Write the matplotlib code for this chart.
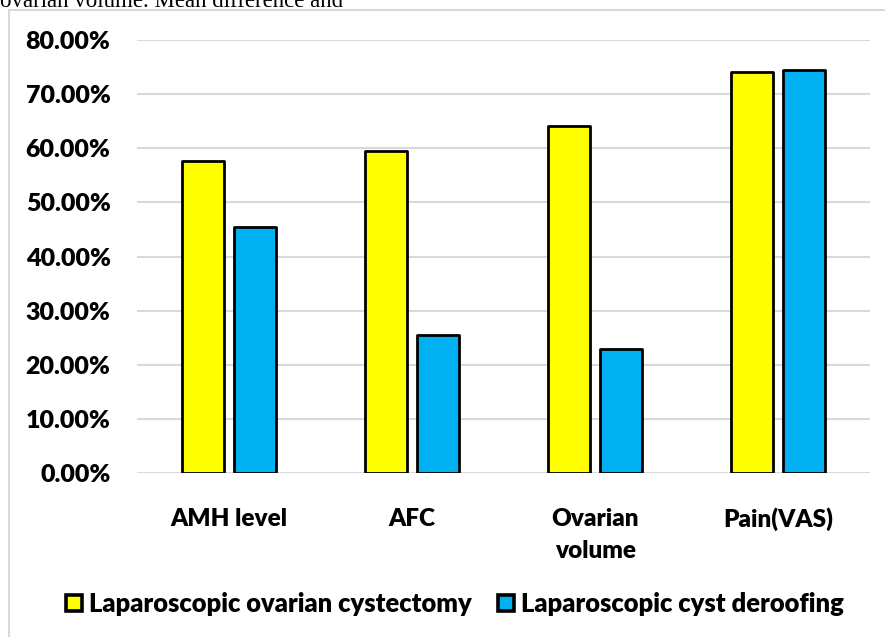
import matplotlib
matplotlib.use("Agg")
import matplotlib.pyplot as plt
from matplotlib.lines import Line2D
from matplotlib.ticker import FuncFormatter
import numpy as np

categories = ["AMH level", "AFC", "Ovarian\nvolume", "Pain(VAS)"]
cystectomy = [0.577, 0.595, 0.642, 0.741]
deroofing = [0.454, 0.255, 0.230, 0.745]
series_names = ["Laparoscopic ovarian cystectomy", "Laparoscopic cyst deroofing"]
colors = ["#FFFF00", "#00B0F0"]

FONT = "Lato"
WEIGHT = "heavy"

fig = plt.figure(figsize=(8.85, 6.37), dpi=100)
ax = fig.add_axes([137/885, 1-473/637, (870-137)/885, (473-40)/637])

x = np.arange(len(categories))
w = 0.23
off = 0.142
ax.bar(x - off, cystectomy, w, color=colors[0], edgecolor="black", linewidth=2.0,
       joinstyle="round", label=series_names[0], zorder=3)
ax.bar(x + off, deroofing, w, color=colors[1], edgecolor="black", linewidth=2.0,
       joinstyle="round", label=series_names[1], zorder=3)

ax.set_xlim(-0.5, len(categories) - 0.5)
ax.set_ylim(0, 0.8)
ax.set_yticks(np.arange(0, 0.81, 0.1))
ax.yaxis.set_major_formatter(FuncFormatter(lambda v, p: f"{v*100:.2f}%"))
ax.grid(axis="y", color="#d9d9d9", linewidth=1.5, zorder=0)
for s in ax.spines.values():
    s.set_visible(False)
ax.tick_params(axis="both", length=0)
ax.tick_params(axis="y", pad=19)
ax.tick_params(axis="x", pad=25)
ax.set_xticks(x)
ax.set_xticklabels(categories, fontfamily=FONT, fontweight=WEIGHT, fontsize=17.5,
                   linespacing=1.55, va="top")
for lbl in ax.get_yticklabels():
    lbl.set_fontfamily(FONT)
    lbl.set_fontweight(WEIGHT)
    lbl.set_fontsize(18)

leg = fig.legend(loc="center", bbox_to_anchor=(455/885, 1-604/637), ncol=2,
                 frameon=False, prop={"family": FONT, "weight": WEIGHT, "size": 18.4},
                 handlelength=0.62, handleheight=0.62, handletextpad=0.3,
                 columnspacing=1.0)
for h in leg.legend_handles:
    h.set_linewidth(2.6)

# outer border (light gray) extending off the right/bottom edges
fig.add_artist(Line2D([9/885, 9/885], [0, 1-10/637], color="#d9d9d9", linewidth=1.5,
                      transform=fig.transFigure))
fig.add_artist(Line2D([9/885, 1], [1-10/637, 1-10/637], color="#d9d9d9", linewidth=1.5,
                      transform=fig.transFigure))

# cropped caption text at the very top
fig.text(0.0, 1-7/637, "ovarian volume. Mean difference and", fontfamily="Liberation Serif",
         fontsize=16.5, va="baseline", ha="left")

fig.savefig("out.png", dpi=100)
